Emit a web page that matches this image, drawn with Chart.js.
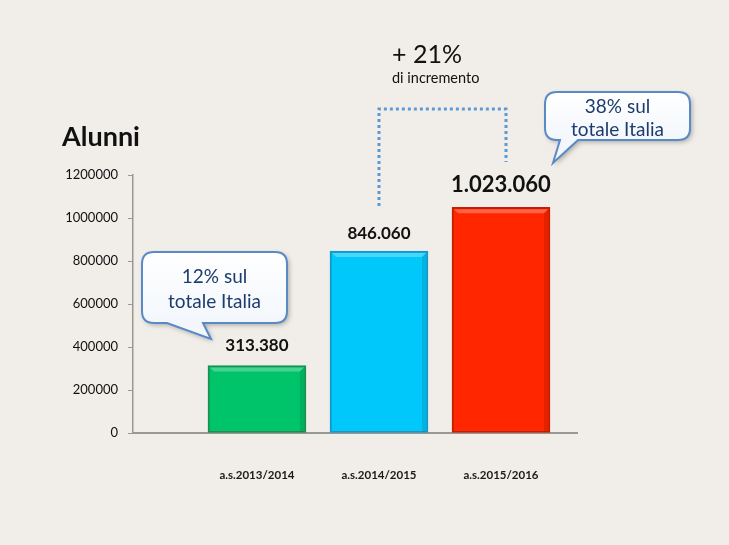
<!DOCTYPE html>
<html>
<head>
<meta charset="utf-8">
<script src="https://cdn.jsdelivr.net/npm/chart.js@4"></script>
<style>
  html, body { margin: 0; padding: 0; background: #f1eee9; }
  #wrap { width: 729px; height: 545px; position: relative; }
</style>
</head>
<body>
<div id="wrap"><canvas id="alunniChart"></canvas></div>
<script>
/* Alunni per anno scolastico */

const CATEGORIES  = ['a.s.2013/2014', 'a.s.2014/2015', 'a.s.2015/2016'];
const ALUNNI      = [313380, 846060, 1050000];
const VALUE_TEXT  = ['313.380', '846.060', '1.023.060'];
const Y_TICKS     = [0, 200000, 400000, 600000, 800000, 1000000, 1200000];

const GREEN  = '#00c46a';
const BLUE   = '#00c8fa';
const RED    = '#ff2600';
const FONT   = 'Lato, "Open Sans", sans-serif';
const NAVY   = '#1d3c6e';
const DOTS   = '#5b9bd5';

function bubble(ctx, L, T, R, B, r, t1, t2, tip) {
  ctx.beginPath();
  ctx.moveTo(L + r, T);
  ctx.lineTo(R - r, T); ctx.quadraticCurveTo(R, T, R, T + r);
  ctx.lineTo(R, B - r); ctx.quadraticCurveTo(R, B, R - r, B);
  ctx.lineTo(t2, B); ctx.lineTo(tip[0], tip[1]); ctx.lineTo(t1, B);
  ctx.lineTo(L + r, B); ctx.quadraticCurveTo(L, B, L, B - r);
  ctx.lineTo(L, T + r); ctx.quadraticCurveTo(L, T, L + r, T);
  ctx.closePath();
}

function drawBubble(ctx, box, lines) {
  const [L, T, R, B] = box.rect;
  ctx.save();
  bubble(ctx, L, T, R, B, 12, box.t1, box.t2, box.tip);
  const g = ctx.createLinearGradient(0, T, 0, B);
  g.addColorStop(0, '#ffffff');
  g.addColorStop(1, '#f3f7fc');
  ctx.fillStyle = g;
  ctx.shadowColor = 'rgba(0,0,0,0.30)';
  ctx.shadowBlur = 5;
  ctx.shadowOffsetX = 2;
  ctx.shadowOffsetY = 2;
  ctx.fill();
  ctx.shadowColor = 'transparent';
  ctx.strokeStyle = '#5a8ac6';
  ctx.lineWidth = 2;
  ctx.stroke();
  ctx.fillStyle = NAVY;
  ctx.font = '19px ' + FONT;
  ctx.textAlign = 'center';
  ctx.textBaseline = 'middle';
  const cx = (L + R) / 2;
  ctx.fillText(lines[0], cx, T + box.ty[0]);
  ctx.fillText(lines[1], cx, T + box.ty[1]);
  ctx.restore();
}

// light bevel on top/left edge of each bar
const bevel = {
  id: 'bevel',
  afterDatasetsDraw(chart) {
    const ctx = chart.ctx;
    chart.getDatasetMeta(0).data.forEach(b => {
      const w = b.width, L = b.x - w / 2 + 2, R = b.x + w / 2 - 2, T = b.y + 2, B = b.base - 1;
      ctx.save();
      ctx.fillStyle = 'rgba(255,255,255,0.28)';
      ctx.beginPath();
      ctx.moveTo(L, T); ctx.lineTo(R, T); ctx.lineTo(R - 4, T + 4); ctx.lineTo(L + 4, T + 4); ctx.closePath();
      ctx.fill();
      ctx.fillStyle = 'rgba(0,0,0,0.10)';
      ctx.beginPath();
      ctx.moveTo(R, T); ctx.lineTo(R, B); ctx.lineTo(R - 4, B); ctx.lineTo(R - 4, T + 4); ctx.closePath();
      ctx.fill();
      ctx.restore();
    });
  }
};

const extras = {
  id: 'extras',
  afterDraw(chart) {
    const ctx = chart.ctx;
    const bars = chart.getDatasetMeta(0).data;

    // title
    ctx.save();
    ctx.fillStyle = '#111';
    ctx.font = 'bold 27px ' + FONT;
    ctx.textAlign = 'left';
    ctx.textBaseline = 'middle';
    ctx.fillText('Alunni', 62, 137);

    // value labels
    const sizes = [17, 17, 22];
    const offs  = [20, 18, 22];
    bars.forEach((b, i) => {
      ctx.font = 'bold ' + sizes[i] + 'px ' + FONT;
      ctx.textAlign = 'center';
      ctx.fillStyle = '#111';
      ctx.fillText(VALUE_TEXT[i], b.x, b.y - offs[i]);
    });

    // dotted bracket between 2014/15 and 2015/16
    const xa = bars[1].x, xb = bars[2].x + 5, top = 109;
    ctx.strokeStyle = DOTS;
    ctx.lineWidth = 3;
    ctx.setLineDash([3, 3]);
    ctx.beginPath();
    ctx.moveTo(xa, bars[1].y - 45);
    ctx.lineTo(xa, top);
    ctx.lineTo(xb, top);
    ctx.lineTo(xb, 162);
    ctx.stroke();
    ctx.setLineDash([]);

    // increment text
    ctx.fillStyle = '#111';
    ctx.textAlign = 'left';
    ctx.font = '25px ' + FONT;
    ctx.fillText('+ 21%', 392, 55);
    ctx.font = '14.5px ' + FONT;
    ctx.fillText('di incremento', 392, 78);
    ctx.restore();

    drawBubble(ctx, { rect: [142, 252, 287, 323], t1: 167, t2: 203, tip: [211, 339], ty: [25, 50] },
      ['12% sul', 'totale Italia']);
    drawBubble(ctx, { rect: [545, 92, 690, 140], t1: 560, t2: 578, tip: [553, 163], ty: [15, 38] },
      ['38% sul', 'totale Italia']);
  }
};

new Chart(document.getElementById('alunniChart'), {
  type: 'bar',
  data: {
    datasets: [{
      label: 'Alunni',
      data: ALUNNI.map((v, i) => ({ x: i, y: v })),
      backgroundColor: [GREEN, BLUE, RED],
      borderColor: ['#17924f', '#1598c8', '#c41d00'],
      borderWidth: 2,
      borderSkipped: false,
      barThickness: 98
    }]
  },
  options: {
    responsive: true,
    maintainAspectRatio: false,
    animation: false,
    layout: { padding: { top: 175, right: 152, left: 0, bottom: 0 } },
    plugins: { legend: { display: false }, tooltip: { enabled: false } },
    scales: {
      x: {
        type: 'linear',
        offset: false,
        min: -1.016,
        max: 2.623,
        afterBuildTicks: s => { s.ticks = CATEGORIES.map((c, i) => ({ value: i })); },
        afterFit: s => { s.height = 112; },
        grid: { display: false },
        border: { display: true, color: '#9a9893', width: 2 },
        ticks: {
          padding: 27,
          color: '#1a1a1a',
          font: { family: FONT, size: 11.5, weight: 'bold' },
          callback: v => CATEGORIES[v]
        }
      },
      y: {
        min: 0,
        max: 1200000,
        afterBuildTicks: s => { s.ticks = Y_TICKS.map(v => ({ value: v })); },
        afterFit: s => { s.width = 133; },
        grid: { drawOnChartArea: false, drawTicks: true, tickLength: 5, color: '#9a9893' },
        border: { display: true, color: '#9a9893', width: 1.5 },
        ticks: {
          padding: 10,
          color: '#111',
          font: { family: FONT, size: 13 },
          callback: v => String(v)
        }
      }
    }
  },
  plugins: [bevel, extras]
});
</script>
</body>
</html>
